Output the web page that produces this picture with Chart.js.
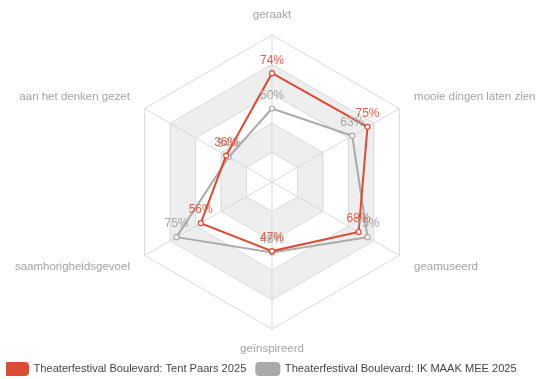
<!DOCTYPE html>
<html>
<head>
<meta charset="utf-8">
<script src="https://cdn.jsdelivr.net/npm/chart.js@4/dist/chart.umd.min.js"></script>
<style>
  html, body { margin: 0; padding: 0; background: #fff; }
  #wrap { width: 540px; height: 379px; overflow: hidden; }
  #radar { display: block; margin-left: 6px; }
</style>
</head>
<body>
<div id="wrap"><canvas id="radar" width="540" height="379"></canvas></div>
<script>
const labels = ["geraakt", "mooie dingen laten zien", "geamuseerd", "geïnspireerd", "saamhorigheidsgevoel", "aan het denken gezet"];
const tentPaars = [74, 75, 68, 47, 56, 36];
const ikMaakMee = [50, 63, 75, 48, 75, 34];
const seriesNames = ["Theaterfestival Boulevard: Tent Paars 2025", "Theaterfestival Boulevard: IK MAAK MEE 2025"];
const ringValues = [0, 20, 40, 60, 80, 100];

const RED = "#dc4b34";
const GREY = "#aaaaaa";

// alternating grey bands behind the grid (20-40 and 60-80)
const bandPlugin = {
  id: "bands",
  beforeDraw(chart) {
    const scale = chart.scales.r;
    const ctx = chart.ctx;
    const n = chart.data.labels.length;
    const hex = (v) => {
      const d = scale.getDistanceFromCenterForValue(v);
      const pts = [];
      for (let i = 0; i < n; i++) pts.push(scale.getPointPosition(i, d));
      return pts;
    };
    ctx.save();
    ctx.fillStyle = "#eeeeee";
    for (let k = 1; k < ringValues.length - 1; k += 2) {
      const outer = hex(ringValues[k + 1]);
      const inner = hex(ringValues[k]);
      ctx.beginPath();
      outer.forEach((p, i) => i ? ctx.lineTo(p.x, p.y) : ctx.moveTo(p.x, p.y));
      ctx.closePath();
      inner.slice().reverse().forEach((p, i) => i ? ctx.lineTo(p.x, p.y) : ctx.moveTo(p.x, p.y));
      ctx.closePath();
      ctx.fill("evenodd");
    }
    ctx.restore();
  }
};

// percentage labels above each point
const valueLabelPlugin = {
  id: "valueLabels",
  afterDatasetsDraw(chart) {
    const ctx = chart.ctx;
    ctx.save();
    ctx.font = "12px 'Liberation Sans', Arial, sans-serif";
    ctx.textAlign = "center";
    ctx.textBaseline = "middle";
    for (let d = chart.data.datasets.length - 1; d >= 0; d--) {
      const ds = chart.data.datasets[d];
      const meta = chart.getDatasetMeta(d);
      ctx.fillStyle = ds.labelColor;
      meta.data.forEach((pt, i) => {
        ctx.fillText(ds.data[i] + "%", pt.x, pt.y - 13);
      });
    }
    ctx.restore();
  }
};

Chart.defaults.font.family = "'Liberation Sans', Arial, sans-serif";

new Chart(document.getElementById("radar"), {
  type: "radar",
  data: {
    labels: labels,
    datasets: [
      {
        label: seriesNames[0],
        data: tentPaars,
        borderColor: RED,
        backgroundColor: RED,
        labelColor: "#e0624c",
        fill: false,
        borderWidth: 2,
        pointRadius: 2.5,
        pointBorderWidth: 1.2,
        pointBackgroundColor: "#fff",
        pointBorderColor: RED
      },
      {
        label: seriesNames[1],
        data: ikMaakMee,
        borderColor: GREY,
        backgroundColor: GREY,
        labelColor: "#a6a6a6",
        fill: false,
        borderWidth: 2,
        pointRadius: 2.5,
        pointBorderWidth: 1.2,
        pointBackgroundColor: "#fff",
        pointBorderColor: GREY
      }
    ]
  },
  options: {
    responsive: false,
    animation: false,
    layout: { padding: { left: -11, right: 0, top: 12, bottom: -6 } },
    plugins: {
      legend: {
        position: "bottom",
        align: "start",
        labels: {
          boxWidth: 23,
          boxHeight: 12,
          useBorderRadius: true,
          borderRadius: 3,
          color: "#444",
          padding: 10,
          font: { size: 11.1 }
        }
      },
      tooltip: { enabled: false }
    },
    scales: {
      r: {
        min: 0,
        max: 100,
        ticks: { stepSize: 20, display: false },
        grid: { color: "#d9d9d9", lineWidth: 1 },
        angleLines: { color: "#d9d9d9", lineWidth: 1 },
        pointLabels: {
          color: "#a3a3a3",
          padding: 17,
          font: { size: 11.5, lineHeight: 0.52 }
        }
      }
    }
  },
  plugins: [bandPlugin, valueLabelPlugin]
});
</script>
</body>
</html>
